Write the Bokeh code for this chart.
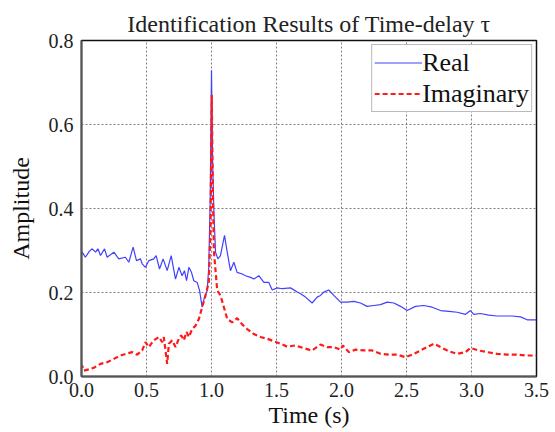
from bokeh.plotting import figure
from bokeh.models import Legend, LegendItem, SingleIntervalTicker, Range1d, CustomJSTickFormatter
from bokeh.embed import file_html
from bokeh.resources import INLINE

# Real part (time, amplitude)
real_t = [0.0, 0.005, 0.03, 0.06, 0.082, 0.108, 0.126, 0.146, 0.177, 0.197, 0.249, 0.287, 0.338,
          0.364, 0.397, 0.423, 0.454, 0.467, 0.492, 0.518, 0.556, 0.574, 0.6, 0.628, 0.659,
          0.69, 0.723, 0.749, 0.774, 0.792, 0.808, 0.826, 0.846, 0.864, 0.89, 0.908, 0.928,
          0.946, 0.967, 0.979, 0.99, 1.0, 1.008, 1.018, 1.031, 1.049, 1.069, 1.1, 1.121, 1.146,
          1.172, 1.197, 1.236, 1.262, 1.3, 1.326, 1.364, 1.403, 1.441, 1.467, 1.505, 1.544,
          1.608, 1.659, 1.685, 1.723, 1.774, 1.813, 1.838, 1.864, 1.902, 1.941, 1.992, 2.044,
          2.095, 2.146, 2.197, 2.249, 2.3, 2.351, 2.403, 2.454, 2.505, 2.569, 2.633, 2.697,
          2.762, 2.826, 2.89, 2.954, 2.992, 3.018, 3.069, 3.133, 3.197, 3.249, 3.313, 3.377,
          3.428, 3.5]
real_a = [0.29, 0.296, 0.284, 0.298, 0.304, 0.296, 0.304, 0.288, 0.304, 0.284, 0.296, 0.28, 0.284,
          0.272, 0.308, 0.276, 0.28, 0.268, 0.26, 0.276, 0.28, 0.288, 0.256, 0.28, 0.252,
          0.288, 0.232, 0.26, 0.24, 0.252, 0.228, 0.26, 0.248, 0.228, 0.224, 0.205, 0.165,
          0.189, 0.205, 0.26, 0.42, 0.729, 0.52, 0.395, 0.296, 0.28, 0.288, 0.336, 0.296, 0.252,
          0.272, 0.248, 0.244, 0.24, 0.236, 0.232, 0.24, 0.224, 0.224, 0.206, 0.211, 0.209,
          0.211, 0.201, 0.197, 0.189, 0.175, 0.189, 0.193, 0.201, 0.206, 0.193, 0.177, 0.177,
          0.179, 0.175, 0.167, 0.169, 0.171, 0.177, 0.175, 0.167, 0.157, 0.167, 0.169, 0.165,
          0.157, 0.155, 0.153, 0.148, 0.157, 0.148, 0.15, 0.146, 0.144, 0.144, 0.144, 0.142,
          0.135, 0.135]

# Imaginary part (time, amplitude)
imag_t = [0.0, 0.005, 0.018, 0.056, 0.095, 0.146, 0.197, 0.249, 0.3, 0.351, 0.39, 0.428, 0.467,
          0.492, 0.518, 0.556, 0.595, 0.621, 0.633, 0.659, 0.672, 0.697, 0.723, 0.749, 0.767,
          0.787, 0.808, 0.826, 0.851, 0.877, 0.903, 0.928, 0.954, 0.979, 0.992, 1.002, 1.01,
          1.018, 1.044, 1.069, 1.095, 1.121, 1.159, 1.197, 1.236, 1.274, 1.326, 1.377, 1.428,
          1.479, 1.531, 1.582, 1.646, 1.685, 1.749, 1.774, 1.838, 1.89, 1.941, 1.992, 2.01,
          2.056, 2.108, 2.172, 2.236, 2.3, 2.364, 2.428, 2.492, 2.544, 2.608, 2.659, 2.71,
          2.762, 2.826, 2.89, 2.954, 2.992, 3.056, 3.121, 3.197, 3.274, 3.351, 3.428, 3.5]
imag_a = [0.02, 0.026, 0.014, 0.017, 0.021, 0.03, 0.034, 0.042, 0.05, 0.055, 0.058, 0.052, 0.062,
          0.082, 0.07, 0.086, 0.094, 0.082, 0.094, 0.03, 0.078, 0.086, 0.07, 0.09, 0.098,
          0.086, 0.106, 0.094, 0.113, 0.121, 0.137, 0.165, 0.193, 0.224, 0.35, 0.67, 0.45,
          0.3, 0.205, 0.193, 0.165, 0.137, 0.129, 0.139, 0.124, 0.113, 0.101, 0.094, 0.09,
          0.084, 0.078, 0.071, 0.074, 0.07, 0.064, 0.062, 0.076, 0.07, 0.07, 0.064, 0.074,
          0.058, 0.064, 0.062, 0.062, 0.054, 0.052, 0.052, 0.046, 0.052, 0.062, 0.07, 0.078,
          0.07, 0.06, 0.054, 0.058, 0.068, 0.062, 0.058, 0.054, 0.052, 0.052, 0.05, 0.05]

FONT = "Liberation Serif"

p = figure(width=555, height=432, output_backend="svg", toolbar_location=None,
           x_range=Range1d(0, 3.5), y_range=Range1d(0, 0.8),
           min_border_left=81, min_border_right=19, min_border_top=40, min_border_bottom=56,
           title="Identification Results of Time-delay τ")

p.title.text_font = FONT
p.title.text_font_size = "24px"
p.title.text_font_style = "normal"
p.title.align = "center"
p.title.text_color = "#222222"
p.title.standoff = 8

r1 = p.line(real_t, real_a, line_color="#4040ff", line_width=1.2)
r2 = p.line(imag_t, imag_a, line_color="#ff1a1a", line_width=2.2, line_dash="5 3")

p.xaxis.ticker = SingleIntervalTicker(interval=0.5)
p.yaxis.ticker = SingleIntervalTicker(interval=0.2)
p.xaxis.formatter = CustomJSTickFormatter(code="return tick.toFixed(1);")
p.yaxis.formatter = CustomJSTickFormatter(code="return tick.toFixed(1);")

for ax in (p.xaxis[0], p.yaxis[0]):
    ax.major_label_text_font = FONT
    ax.major_label_text_font_size = "20px"
    ax.major_label_text_color = "#222222"
    ax.axis_label_text_font = FONT
    ax.axis_label_text_font_size = "24px"
    ax.axis_label_text_font_style = "normal"
    ax.axis_label_text_color = "#111111"
    ax.major_tick_line_color = None
    ax.minor_tick_line_color = None
    ax.major_tick_out = 0
    ax.major_tick_in = 0
    ax.minor_tick_out = 0
    ax.minor_tick_in = 0
    ax.axis_line_color = "#555555"
    ax.axis_line_width = 2

p.xaxis.axis_label = "Time (s)"
p.yaxis.axis_label = "Amplitude"
p.xaxis.major_label_standoff = 6
p.xaxis.axis_label_standoff = 2
p.yaxis.major_label_standoff = 8
p.yaxis.axis_label_standoff = 12

p.xgrid.grid_line_color = "#808080"
p.ygrid.grid_line_color = "#808080"
p.xgrid.grid_line_dash = "2 2"
p.ygrid.grid_line_dash = "2 2"
p.xgrid.grid_line_width = 1
p.ygrid.grid_line_width = 1

p.outline_line_color = "#111111"
p.outline_line_width = 1.5
p.background_fill_color = "white"
p.border_fill_color = "white"

legend = Legend(items=[LegendItem(label="Real", renderers=[r1]),
                       LegendItem(label="Imaginary", renderers=[r2])],
                location="top_right")
legend.label_text_font = FONT
legend.label_text_font_size = "26px"
legend.label_text_color = "#111111"
legend.glyph_width = 48
legend.label_standoff = 0
legend.spacing = 0
legend.padding = 2
legend.margin = 4
legend.label_height = 31
legend.glyph_height = 31
legend.border_line_color = "#777777"
legend.border_line_width = 1.5
legend.background_fill_alpha = 1
p.add_layout(legend)

open("out.html", "w").write(file_html(p, INLINE))
